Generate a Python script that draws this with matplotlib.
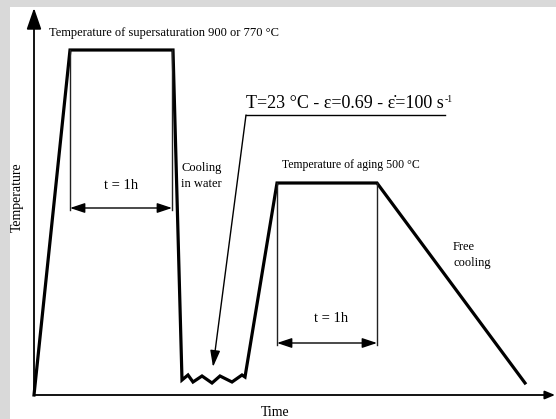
import matplotlib
matplotlib.use("Agg")
import matplotlib.pyplot as plt
from matplotlib.patches import Rectangle

plt.rcParams['font.family'] = ['Liberation Serif', 'DejaVu Serif']

# heat treatment schedule (time, temperature) in arbitrary drawing units
time_pts = [0, 36, 139, 148, 154, 159, 168, 178, 186, 198, 208, 211, 243, 343, 491]
temp_pts = [0, 345, 345, 15, 20, 13, 19, 12, 19, 13, 20, 18, 212, 212, 12]

# holding windows (start, end) and the level of the dimension arrows
hold_1 = [36, 138]
hold_1_top = 345
hold_1_arrow = 187
hold_2 = [243, 343]
hold_2_top = 212
hold_2_arrow = 52

# deformation call-out: underline and leader end point
callout_x = [212, 411]
callout_y = 280
callout_tip = (179, 28)

x_end = 521
y_end = 387

fig = plt.figure(figsize=(5.56, 4.19), dpi=100)
fig.patch.set_facecolor('#d9d9d9')
ax = fig.add_axes([10 / 556, 0, 546 / 556, 412 / 419])
ax.set_xlim(-24, 522)
ax.set_ylim(-24, 388)
ax.axis('off')
ax.add_patch(Rectangle((0, 0), 1, 1, transform=ax.transAxes, facecolor='white',
                       edgecolor='none', zorder=-10, clip_on=False))

# axes with arrows
ax.annotate('', xy=(0, y_end), xytext=(0, 0),
            arrowprops=dict(arrowstyle='-|>,head_length=1.3,head_width=0.45',
                            color='black', lw=1.3, shrinkA=0, shrinkB=0))
ax.annotate('', xy=(x_end, 0), xytext=(0, 0),
            arrowprops=dict(arrowstyle='-|>,head_length=0.6,head_width=0.25',
                            color='black', lw=1.3, shrinkA=0, shrinkB=0))

# main curve
ax.plot(time_pts, temp_pts, color='black', lw=2.3, solid_joinstyle='miter')

# holding time brackets
for (t0, t1), top, yarr in [(hold_1, hold_1_top, hold_1_arrow),
                            (hold_2, hold_2_top, hold_2_arrow)]:
    ax.plot([t0, t0], [top, yarr - 2], color='#222222', lw=1.0)
    ax.plot([t1, t1], [top, yarr - 2], color='#222222', lw=1.0)
    ax.annotate('', xy=(t0, yarr), xytext=(t1, yarr),
                arrowprops=dict(arrowstyle='<|-|>,head_length=0.9,head_width=0.3',
                                color='black', lw=1.0, shrinkA=0, shrinkB=0))

# call-out line
ax.plot(callout_x, [callout_y, callout_y], color='black', lw=1.0)
ax.annotate('', xy=callout_tip, xytext=(callout_x[0], callout_y),
            arrowprops=dict(arrowstyle='-|>,head_length=1.0,head_width=0.3',
                            color='black', lw=1.0, shrinkA=0, shrinkB=0))

# labels
ax.text(15, 362, 'Temperature of supersaturation 900 or 770 °C', fontsize=9,
        ha='left', va='center')
ax.text(87, 210, 't = 1h', fontsize=10.5, ha='center', va='center')
ax.text(147, 233, 'Cooling\nin water', fontsize=9, ha='left', va='top',
        linespacing=1.4)
cond = ax.text(212, 283, 'T=23 °C - ε=0.69 - ε̇=100 s', fontsize=13,
               ha='left', va='bottom')
ax.text(248, 230, 'Temperature of aging 500 °C', fontsize=8.5,
        ha='left', va='center')
ax.text(297, 77, 't = 1h', fontsize=10.5, ha='center', va='center')
ax.text(419, 154, 'Free\ncooling', fontsize=9, ha='left', va='top',
        linespacing=1.4)
ax.text(241, -17, 'Time', fontsize=10, ha='center', va='center')
ax.text(-17, 198, 'Temperature', fontsize=10, ha='center', va='center',
        rotation=90)

# superscript -1 after the strain rate unit
fig.canvas.draw()
bb = cond.get_window_extent()
fig.text(bb.x1 / fig.dpi / fig.get_figwidth() + 0.001,
         (bb.y1 - 4) / fig.dpi / fig.get_figheight(), '-1', fontsize=7,
         ha='left', va='center')

fig.savefig('out.png', dpi=100, facecolor=fig.get_facecolor())
